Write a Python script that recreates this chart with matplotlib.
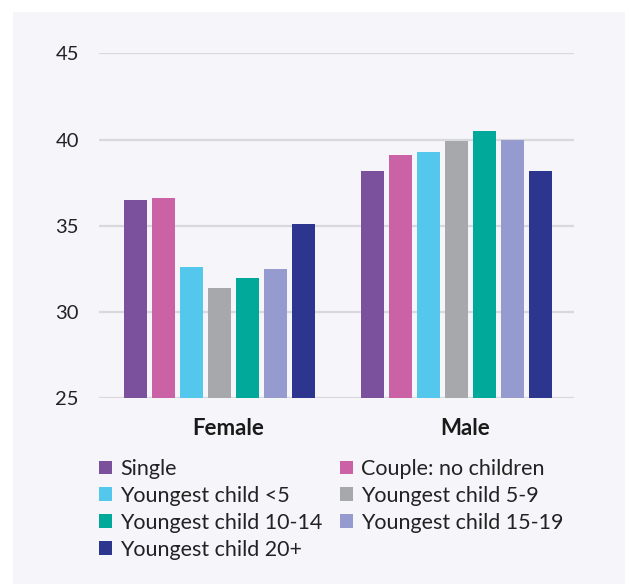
import matplotlib
matplotlib.use("Agg")
import matplotlib.pyplot as plt
from matplotlib.patches import Patch, Rectangle
import numpy as np

plt.rcParams['font.family'] = ['Lato', 'DejaVu Sans']

categories = ["Female", "Male"]
series = ["Single", "Couple: no children", "Youngest child <5", "Youngest child 5-9",
          "Youngest child 10-14", "Youngest child 15-19", "Youngest child 20+"]
values = {
    "Single": [36.5, 38.2],
    "Couple: no children": [36.6, 39.1],
    "Youngest child <5": [32.6, 39.3],
    "Youngest child 5-9": [31.4, 39.9],
    "Youngest child 10-14": [32.0, 40.5],
    "Youngest child 15-19": [32.5, 40.0],
    "Youngest child 20+": [35.1, 38.2],
}
colors = ["#7b519d", "#cb62a5", "#53c8ec", "#a7a8ab", "#00a99a", "#959bce", "#2c368f"]
yticks = [25, 30, 35, 40, 45]

fig = plt.figure(figsize=(6.25, 5.84), dpi=100)
fig.patch.set_facecolor("white")
bg = "#f6f5fa"
fig.patches.append(Rectangle((13/625, 0), 1, 1 - 12/584, transform=fig.transFigure,
                             facecolor=bg, edgecolor="none", zorder=-10))

ax = fig.add_axes([99/625, 1 - 398.3/584, (574-99)/625, (398.3-53.3)/584])
ax.set_facecolor(bg)
ax.patch.set_alpha(0)

x = np.arange(len(categories))
slot = 0.118
width = 0.097
n = len(series)
for i, (s, c) in enumerate(zip(series, colors)):
    off = (i - (n - 1) / 2) * slot
    ax.bar(x + off, values[s], width=width, bottom=0, color=c, zorder=3, label=s)

ax.set_ylim(25, 45)
ax.set_xlim(-0.508, 1.496)
ax.set_yticks(yticks)
ax.set_yticklabels([str(t) for t in yticks], fontsize=14.5, color="#222222")
ax.set_xticks(x + 0.035)
ax.set_xticklabels(categories, fontsize=16, fontweight="bold", color="#1a1a1a")
ax.tick_params(axis="both", length=0)
ax.tick_params(axis="y", pad=14.5)
ax.tick_params(axis="x", pad=14)
for sp in ax.spines.values():
    sp.set_visible(False)
ax.yaxis.grid(True, color="#d9d8dc", linewidth=1.6, zorder=0)
ax.set_axisbelow(True)

order = [0, 2, 4, 6, 1, 3, 5]
handles = [Patch(facecolor=colors[i], edgecolor="none") for i in order]
labels = [series[i] for i in order]
leg = fig.legend(handles, labels, ncol=2, loc="upper left",
                 bbox_to_anchor=(99/625, 1 - 459/584), frameon=False,
                 fontsize=15.5, handlelength=0.6, handleheight=0.6,
                 handletextpad=0.37, columnspacing=0.82, labelspacing=0.32,
                 borderaxespad=0, borderpad=0)
for t in leg.get_texts():
    t.set_color("#222222")

fig.savefig("out.png", dpi=100, facecolor="white")
